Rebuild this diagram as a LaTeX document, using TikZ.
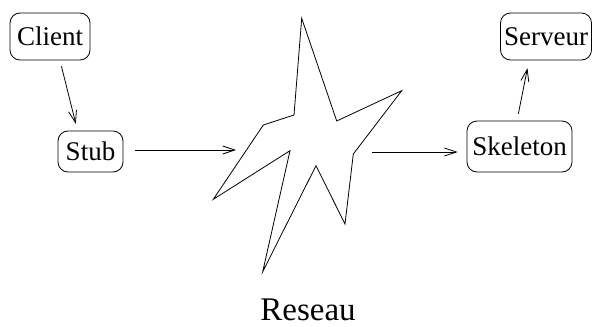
\documentclass[tikz,border=0pt]{standalone}
\usepackage{fontspec}
\setmainfont{Liberation Serif}
\usetikzlibrary{arrows.meta}

\begin{document}
\begin{tikzpicture}[x=1pt, y=-1pt,
        box/.style={rectangle, draw=black, line width=0.8pt, rounded corners=10pt,
                    inner sep=0pt, font=\fontsize{27}{30}\selectfont},
        link/.style={line width=0.8pt, -{Straight Barb[length=12pt, width=8pt]}},
        cloud/.style={draw=black, line width=0.8pt, line join=miter}]
      \useasboundingbox (0,0) rectangle (593,326);
      \node[box, minimum width=80pt, minimum height=47pt] (client) at (50,36.5) {Client};
      \node[box, minimum width=65pt, minimum height=41pt] (stub) at (90.5,151.5) {Stub};
      \node[box, minimum width=105pt, minimum height=51pt] (skel) at (519.5,146.5) {Skeleton};
      \node[box, minimum width=91pt, minimum height=47pt] (serv) at (546,36.5) {Serveur};
      % the network, drawn as a broken star
      \draw[cloud] (301.7,18.3) -- (336.7,121) -- (401.7,90.7) -- (353.3,154)
            -- (345,224) -- (316,165.7) -- (262.7,271.7) -- (290,150.7)
            -- (213.3,199.3) -- (263.3,125) -- (294,115) -- cycle;
      \coordinate (netin) at (236,150);
      \coordinate (netout) at (372,152);
      \node[anchor=base, inner sep=0pt, font=\fontsize{33}{36}\selectfont] (net) at (308,320) {Reseau};
      % calls
      \draw[link, shorten <=6pt, shorten >=7pt] ([xshift=10pt]client.south) -- ([xshift=-13pt]stub.north);
      \draw[link, shorten <=12pt] (stub.east |- netin) -- (netin);
      \draw[link, shorten >=9pt] (netout) -- (skel.west |- netout);
      \draw[link, shorten <=7pt, shorten >=8pt] ([xshift=-2.5pt]skel.north) -- ([xshift=-17pt]serv.south);
\end{tikzpicture}
\end{document}
